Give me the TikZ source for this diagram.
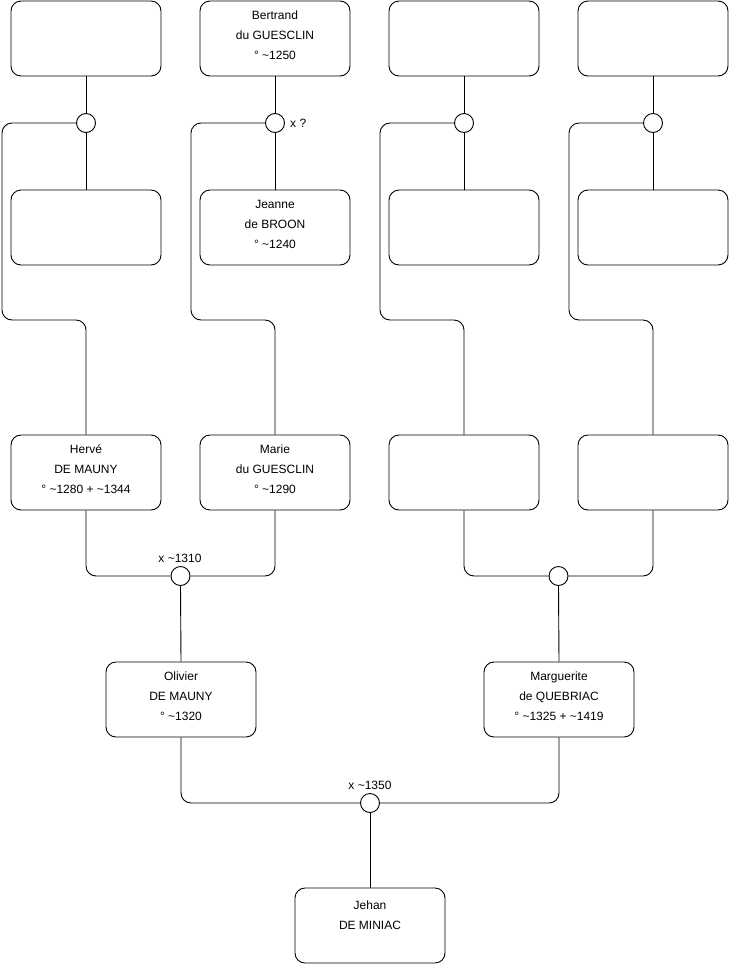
\documentclass[tikz,border=0pt]{standalone}
\usepackage{fontspec}
\setmainfont{Liberation Sans}
\begin{document}
\begin{tikzpicture}[x=1pt,y=-1pt,
  box/.style={draw, line width=0.9pt, rounded corners=10pt, minimum width=150pt, minimum height=75pt, inner sep=0pt},
  txt/.style={align=center, font=\fontsize{12}{20}\selectfont, inner sep=0pt},
  cir/.style={draw, line width=0.9pt, circle, minimum size=19pt, inner sep=0pt, fill=white},
  conn/.style={line width=0.9pt, rounded corners=10pt},
  lab/.style={font=\fontsize{12}{14}\selectfont, inner sep=0pt}]
\useasboundingbox (0,0) rectangle (740,975);
% row 1
\node[box] (b1) at (86,38.5) {};
\node[box] (b2) at (275,38.5) {};
\node[txt] (t2) at (275,35) {Bertrand\\du GUESCLIN\\° \textasciitilde1250};
\node[box] (b3) at (464,38.5) {};
\node[box] (b4) at (653,38.5) {};
% row 2
\node[box] (m1) at (86,227.5) {};
\node[box] (m2) at (275,227.5) {};
\node[txt] (tm2) at (275,224) {Jeanne\\de BROON\\° \textasciitilde1240};
\node[box] (m3) at (464,227.5) {};
\node[box] (m4) at (653,227.5) {};
% row 3
\node[box] (r1) at (86,472.5) {};
\node[txt] (tr1) at (86,469) {Hervé\\DE MAUNY\\° \textasciitilde1280 + \textasciitilde1344};
\node[box] (r2) at (275,472.5) {};
\node[txt] (tr2) at (275,469) {Marie\\du GUESCLIN\\° \textasciitilde1290};
\node[box] (r3) at (464,472.5) {};
\node[box] (r4) at (653,472.5) {};
% row 4
\node[box] (o1) at (181,699.5) {};
\node[txt] (to1) at (181,696) {Olivier\\DE MAUNY\\° \textasciitilde1320};
\node[box] (o2) at (559,699.5) {};
\node[txt] (to2) at (559,696) {Marguerite\\de QUEBRIAC\\° \textasciitilde1325 + \textasciitilde1419};
% row 5
\node[box] (j) at (370,925.5) {};
\node[txt] (tj) at (370,915) {Jehan\\DE MINIAC};
% circles
\node[cir] (c1) at (86,123) {};
\node[cir] (c2) at (275,123) {};
\node[cir] (c3) at (464,123) {};
\node[cir] (c4) at (653,123) {};
\node[cir] (c5) at (180.5,576) {};
\node[cir] (c6) at (558.5,576) {};
\node[cir] (c7) at (370,803) {};
% labels
\node[lab, anchor=west] (lx) at (290,123) {x ?};
\node[lab] (l1310) at (180,558) {x \textasciitilde1310};
\node[lab] (l1350) at (370,785) {x \textasciitilde1350};
% coordinates
\coordinate (k1) at (2,320);
\coordinate (k2) at (191,320);
\coordinate (k3) at (380,320);
\coordinate (k4) at (569,320);
% connectors
\foreach \i in {1,2,3,4} {
  \draw[line width=0.9pt] (b\i.south) -- (c\i.north);
  \draw[line width=0.9pt] (c\i.south) -- (m\i.north);
  \draw[conn] (c\i.west) -| (k\i) -| (r\i.north);
}
\draw[conn] (r1.south) |- (c5.west);
\draw[conn] (r2.south) |- (c5.east);
\draw[conn] (r3.south) |- (c6.west);
\draw[conn] (r4.south) |- (c6.east);
\draw[line width=0.9pt] (c5.south) -- (o1.north);
\draw[line width=0.9pt] (c6.south) -- (o2.north);
\draw[conn] (o1.south) |- (c7.west);
\draw[conn] (o2.south) |- (c7.east);
\draw[line width=0.9pt] (c7.south) -- (j.north);
\end{tikzpicture}
\end{document}
